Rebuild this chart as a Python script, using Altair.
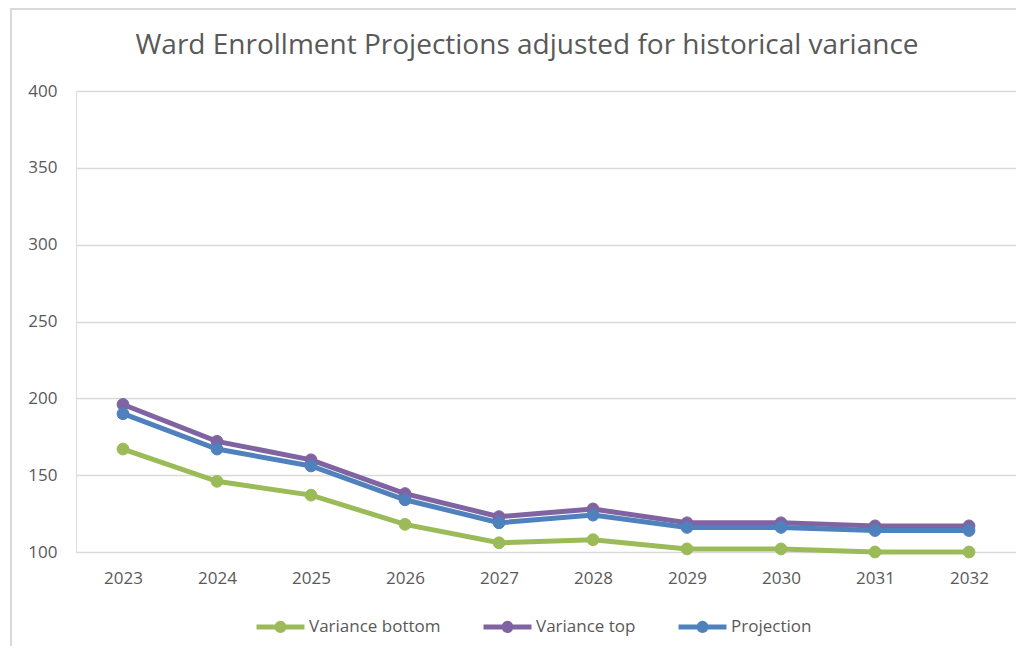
import altair as alt
import pandas as pd

years = ["2023", "2024", "2025", "2026", "2027", "2028", "2029", "2030", "2031", "2032"]
variance_bottom = [167, 146, 137, 118, 106, 108, 102, 102, 100, 100]
variance_top = [196, 172, 160, 138, 123, 128, 119, 119, 117, 117]
projection = [190, 167, 156, 134, 119, 124, 116, 116, 114, 114]
series_names = ["Variance bottom", "Variance top", "Projection"]
series_colors = ["#9BBB59", "#8064A2", "#4F81BD"]
y_ticks = [100, 150, 200, 250, 300, 350, 400]
title_text = "Ward Enrollment Projections adjusted for historical variance"

rows = []
for name, vals in zip(series_names, [variance_bottom, variance_top, projection]):
    for yr, v in zip(years, vals):
        rows.append({"Year": yr, "Value": v, "Series": name})
df = pd.DataFrame(rows)

FONT = "Open Sans"
TXT = "#595959"

x_enc = alt.X("Year:O", sort=years,
              scale=alt.Scale(type="point", padding=0.5),
              axis=alt.Axis(title=None, labelAngle=0, domain=False, ticks=False,
                            grid=False, labelPadding=18, labelFontSize=17,
                            labelFont=FONT, labelColor=TXT))
y_enc = alt.Y("Value:Q",
              scale=alt.Scale(domain=[100, 400], nice=False, zero=False),
              axis=alt.Axis(title=None, values=y_ticks, domain=False, ticks=False,
                            grid=True, gridColor="#d9d9d9", gridWidth=1.3,
                            labelPadding=19, labelFontSize=17, labelFont=FONT,
                            labelColor=TXT))

legend = alt.Legend(
    title=None, orient="none", direction="horizontal", legendX=178, legendY=509,
    symbolType="M-1,0 L1,0 M0.15,0 A0.15,0.15 0 1,1 -0.15,0 A0.15,0.15 0 1,1 0.15,0",
    symbolSize=2304, symbolStrokeWidth=5, labelFontSize=17, labelFont=FONT,
    labelColor=TXT, labelOffset=2, columnPadding=32, padding=0,
)

stroke_scale = alt.Scale(domain=series_names, range=series_colors)

lines = alt.Chart(df).mark_line(strokeWidth=5).encode(
    x=x_enc, y=y_enc,
    stroke=alt.Stroke("Series:N", scale=stroke_scale, legend=legend, sort=series_names),
)
points = alt.Chart(df).mark_point(size=140, filled=True, opacity=1, strokeWidth=1).encode(
    x=x_enc, y=y_enc,
    fill=alt.Fill("Series:N", scale=stroke_scale, legend=legend, sort=series_names),
    stroke=alt.Stroke("Series:N", scale=stroke_scale, legend=legend, sort=series_names),
)

frame = alt.Chart(pd.DataFrame({"f": [0]})).mark_rect(
    filled=False, color="#d9d9d9", strokeWidth=2
).encode(
    x=alt.value(-65), x2=alt.value(960), y=alt.value(-82), y2=alt.value(580)
)

chart = alt.layer(frame, lines, points).properties(
    width=940, height=461,
    title=alt.TitleParams(title_text, fontSize=28, font=FONT, color=TXT,
                          fontWeight="normal", anchor="middle", frame="group",
                          baseline="alphabetic", offset=-74, dx=-19),
    autosize=alt.AutoSizeParams(type="none"),
    padding={"left": 68, "top": 83, "right": 0, "bottom": 94},
).configure_view(stroke=None).configure(background="white")

chart.save("out.html", embed_options={"renderer": "svg", "actions": False})
